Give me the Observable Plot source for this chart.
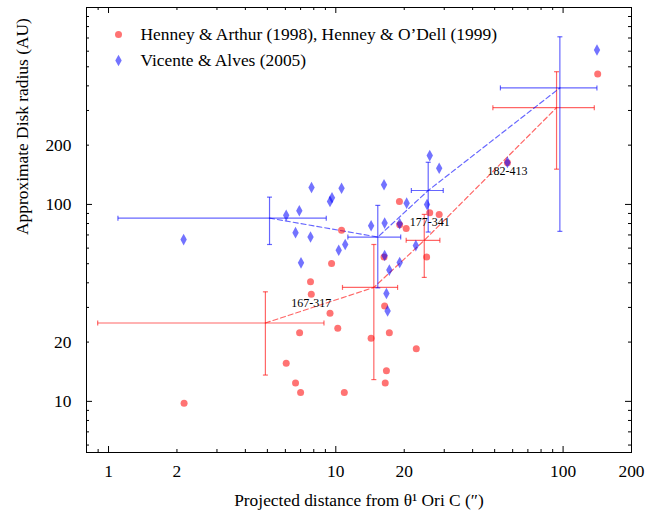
<!DOCTYPE html>
<html>
<head>
<meta charset="utf-8">
<script src="https://cdn.jsdelivr.net/npm/d3@7"></script>
<script src="https://cdn.jsdelivr.net/npm/@observablehq/plot@0.6"></script>
<style>
  html, body { margin: 0; padding: 0; background: white; }
  #chart svg text { font-family: "Liberation Serif", "DejaVu Serif", serif; }
</style>
</head>
<body>
<div id="chart"></div>
<script>
// ---- tick lists ----
const xTickLabels = [1, 2, 5, 10, 20, 50, 100, 200];
const yTickLabels = [10, 20, 50, 100, 200, 500];
const xMajorTicks = [1, 10, 100];
const xMinorTicks = [0.9, 2, 3, 4, 5, 6, 7, 8, 9, 20, 30, 40, 50, 60, 70, 80, 90, 200];
const yMajorTicks = [10, 100];
const yMinorTicks = [6, 7, 8, 9, 20, 30, 40, 50, 60, 70, 80, 90, 200, 300, 400, 500, 600, 700, 800, 900];

// ---- series: Henney & Arthur (1998), Henney & O'Dell (1999) ----
const hadX = [2.15, 6.05, 6.65, 7.00, 10.9, 6.93, 10.2, 9.43, 7.80, 7.74, 14.3, 9.58, 10.6, 16.3, 19.05, 19.1, 20.4, 25.9, 28.5, 25.1, 56.9, 142, 16.4, 17.2, 16.7, 16.5, 22.6];
const hadY = [9.77, 15.6, 12.4, 11.1, 11.1, 22.3, 23.5, 28.0, 35.0, 40.5, 20.9, 50.1, 73.9, 54.1, 103.6, 78.9, 75.4, 90.8, 89.0, 54.1, 163, 460, 30.5, 22.3, 14.3, 12.4, 18.5];

// ---- series: Vicente & Alves (2005) ----
const vaX = [2.14, 6.05, 6.91, 6.65, 7.74, 7.82, 9.43, 9.62, 10.6, 7.03, 10.3, 11.0, 14.3, 16.3, 16.4, 19.1, 20.5, 25.9, 28.5, 25.2, 22.5, 16.4, 19.1, 17.2, 16.7, 16.9, 56.9, 141];
const vaY = [66.3, 88.0, 92.9, 71.9, 68.3, 121.9, 103.6, 108.1, 120.9, 50.5, 58.5, 62.6, 78.0, 125.8, 80.4, 79.9, 101.5, 177, 152.6, 100, 61.8, 55.0, 50.7, 46.4, 35.3, 28.8, 163.5, 608];

// ---- binned means with error bars ----
const hadBinX   = [4.9, 14.7, 24.5, 93.6];
const hadBinXLo = [0.896, 10.7, 20.4, 49.1];
const hadBinXHi = [8.87, 18.7, 28.7, 137.2];
const hadBinY   = [25, 37.9, 65.7, 310];
const hadBinYLo = [13.6, 12.9, 42.6, 151];
const hadBinYHi = [36, 62.6, 89, 472];

const vaBinX   = [5.11, 15.3, 25.5, 96.8];
const vaBinXLo = [1.10, 11.3, 21.5, 53.0];
const vaBinXHi = [9.08, 19.3, 29.7, 140.9];
const vaBinY   = [85.2, 68.3, 117.7, 390.6];
const vaBinYLo = [62.6, 37.7, 72.4, 73];
const vaBinYHi = [108.9, 98.9, 163.7, 710];

// ---- annotations ----
const annText = ["167-317", "177-341", "182-413"];
const annX = [7.80, 19.1, 56.9];
const annY = [35.0, 78.9, 163];

const legendLabels = ["Henney & Arthur (1998), Henney & O\u2019Dell (1999)", "Vicente & Alves (2005)"];
const xTitle = "Projected distance from \u03B8\u00B9 Ori C (\u2033)";
const yTitle = "Approximate Disk radius (AU)";

// ---- build tables ----
const had = hadX.map((x, i) => ({x, y: hadY[i]}));
const va = vaX.map((x, i) => ({x, y: vaY[i]}));
const mkBins = (X, XL, XH, Y, YL, YH) => X.map((x, i) => ({x, xlo: XL[i], xhi: XH[i], y: Y[i], ylo: YL[i], yhi: YH[i]}));
const hadBins = mkBins(hadBinX, hadBinXLo, hadBinXHi, hadBinY, hadBinYLo, hadBinYHi);
const vaBins = mkBins(vaBinX, vaBinXLo, vaBinXHi, vaBinY, vaBinYLo, vaBinYHi);
const ann = annText.map((t, i) => ({t, x: annX[i], y: annY[i]}));

const RED = "#ff0000", BLUE = "#0000ff";
const PT_OP = 0.55, LINE_OP = 0.6;
const FS = 17.4;

const tallDiamond = {draw(ctx) { const w = 3.2, h = 5.8; ctx.moveTo(0, -h); ctx.lineTo(w, 0); ctx.lineTo(0, h); ctx.lineTo(-w, 0); ctx.closePath(); }};
const vCap = {draw(ctx) { ctx.moveTo(0, -2.5); ctx.lineTo(0, 2.5); }};
const hCap = {draw(ctx) { ctx.moveTo(-2.5, 0); ctx.lineTo(2.5, 0); }};

const W = 653, H = 513, mL = 86, mR = 22, mT = 7, mB = 61;
const PH = H - mT - mB, PW = W - mL - mR;

function errorMarks(bins, color) {
  const s = {stroke: color, strokeOpacity: LINE_OP, strokeWidth: 1.2};
  return [
    Plot.link(bins, {x1: "xlo", x2: "xhi", y1: "y", y2: "y", ...s}),
    Plot.link(bins, {x1: "x", x2: "x", y1: "ylo", y2: "yhi", ...s}),
    Plot.dot(bins, {x: "xlo", y: "y", symbol: vCap, fill: "none", ...s}),
    Plot.dot(bins, {x: "xhi", y: "y", symbol: vCap, fill: "none", ...s}),
    Plot.dot(bins, {x: "x", y: "ylo", symbol: hCap, fill: "none", ...s}),
    Plot.dot(bins, {x: "x", y: "yhi", symbol: hCap, fill: "none", ...s}),
    Plot.line(bins, {x: "x", y: "y", ...s, strokeDasharray: "5,3"})
  ];
}

const chart = Plot.plot({
  width: W, height: H,
  marginLeft: mL, marginRight: mR, marginTop: mT, marginBottom: mB,
  style: {fontFamily: "'Liberation Serif', 'DejaVu Serif', serif", fontSize: FS + "px", background: "white", color: "black"},
  x: {type: "log", domain: [0.8, 200]},
  y: {type: "log", domain: [5.5, 1000]},
  marks: [
    // tick marks (inside, mirrored)
    Plot.ruleX(xMajorTicks, {x: d => d, insetTop: PH - 6, stroke: "black"}),
    Plot.ruleX(xMajorTicks, {x: d => d, insetBottom: PH - 6, stroke: "black"}),
    Plot.ruleX(xMinorTicks, {x: d => d, insetTop: PH - 3, stroke: "black"}),
    Plot.ruleX(xMinorTicks, {x: d => d, insetBottom: PH - 3, stroke: "black"}),
    Plot.ruleY(yMajorTicks, {y: d => d, insetRight: PW - 6, stroke: "black"}),
    Plot.ruleY(yMajorTicks, {y: d => d, insetLeft: PW - 6, stroke: "black"}),
    Plot.ruleY(yMinorTicks, {y: d => d, insetRight: PW - 3, stroke: "black"}),
    Plot.ruleY(yMinorTicks, {y: d => d, insetLeft: PW - 3, stroke: "black"}),
    Plot.axisX({ticks: xTickLabels, tickSize: 0, tickPadding: 12, tickFormat: d => String(d), label: null, fontSize: FS}),
    Plot.axisY({ticks: yTickLabels, tickSize: 0, tickPadding: 15, tickFormat: d => String(d), label: null, fontSize: FS}),
    Plot.text([xTitle], {frameAnchor: "bottom", dy: 48, text: d => d, fontSize: FS, lineAnchor: "middle"}),
    Plot.text([yTitle], {frameAnchor: "left", dx: -64, dy: 5, rotate: -90, text: d => d, fontSize: FS, lineAnchor: "middle"}),
    // error bars and trend lines
    ...errorMarks(hadBins, RED),
    ...errorMarks(vaBins, BLUE),
    // points
    Plot.dot(had, {x: "x", y: "y", r: 3.5, fill: RED, fillOpacity: PT_OP}),
    Plot.dot(va, {x: "x", y: "y", symbol: tallDiamond, fill: BLUE, fillOpacity: PT_OP}),
    // annotations
    Plot.text(ann.filter(d => d.t !== "177-341"), {x: "x", y: "y", text: "t", dy: 9, fontSize: 12, lineAnchor: "middle"}),
    Plot.text(ann.filter(d => d.t === "177-341"), {x: "x", y: "y", text: "t", dx: 10, dy: -3, fontSize: 12, textAnchor: "start", lineAnchor: "middle"}),
    // legend
    Plot.dot([legendLabels[0]], {frameAnchor: "top-left", dx: 32, dy: 27, r: 3.5, fill: RED, fillOpacity: PT_OP}),
    Plot.dot([legendLabels[1]], {frameAnchor: "top-left", dx: 32, dy: 53, symbol: tallDiamond, fill: BLUE, fillOpacity: PT_OP}),
    Plot.text([legendLabels[0]], {frameAnchor: "top-left", dx: 54, dy: 27, text: d => d, fontSize: FS, textAnchor: "start", lineAnchor: "middle"}),
    Plot.text([legendLabels[1]], {frameAnchor: "top-left", dx: 54, dy: 53, text: d => d, fontSize: FS, textAnchor: "start", lineAnchor: "middle"}),
    Plot.frame({stroke: "black"})
  ]
});
document.getElementById("chart").append(chart);
</script>
</body>
</html>
